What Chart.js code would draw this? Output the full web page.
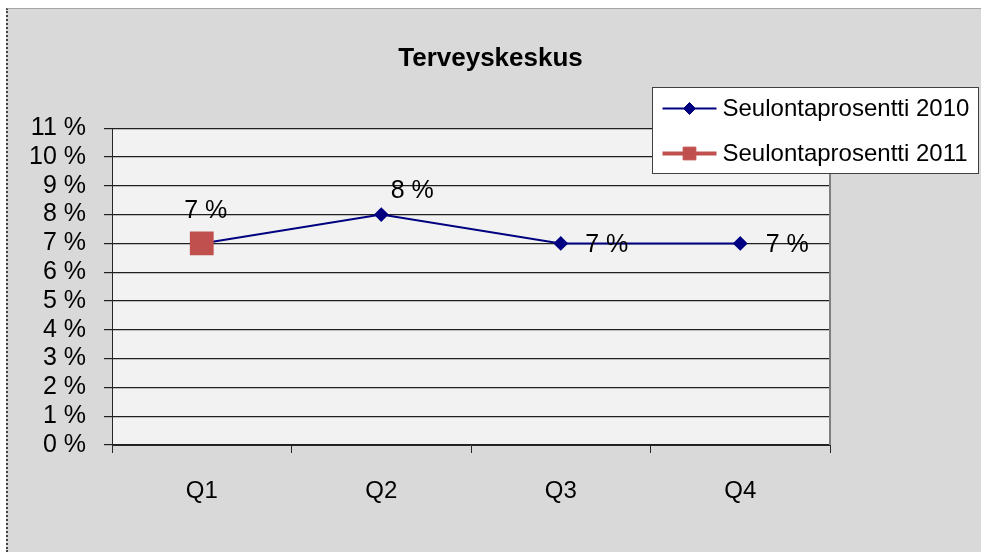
<!DOCTYPE html>
<html lang="fi">
<head>
  <meta charset="UTF-8">
  <title>Terveyskeskus</title>
  <script src="https://cdn.jsdelivr.net/npm/chart.js"></script>
  <style>
    body { margin: 0; background: #fff; }
    .frame {
      position: absolute; top: 8px; left: 6px; width: 975px; height: 544px;
      background: #d9d9d9; border-top: 1px solid #a6a6a6; border-left: 2px dotted #444;
      box-sizing: border-box;
    }
    #chart { position: absolute; top: 0; left: 0; }
  </style>
</head>
<body>
  <div class="frame"></div>
  <canvas id="chart" width="981" height="552"></canvas>

  <script>
    // values
    const categories = ['Q1', 'Q2', 'Q3', 'Q4'];
    const values2010 = [7, 8, 7, 7];
    const values2011 = [7, null, null, null];
    const seriesNames = ['Seulontaprosentti 2010', 'Seulontaprosentti 2011'];
    const yMin = 0, yMax = 11, yStep = 1;

    // where each data label sits relative to its point (Excel placed them by hand)
    const labelOffsets = [[4, -32], [31, -23], [46, 2], [47, 2]];

    const FONT = '"Liberation Sans", Arial, sans-serif';

    const plotBg = {
      id: 'plotBg',
      beforeDraw(chart) {
        const { ctx, chartArea: a } = chart;
        ctx.save();
        ctx.fillStyle = '#f2f2f2';
        ctx.fillRect(a.left, a.top, a.right - a.left, a.bottom - a.top);
        ctx.restore();
      },
      afterDraw(chart) {
        const { ctx, chartArea: a } = chart;
        ctx.save();
        ctx.strokeStyle = '#7f7f7f';
        ctx.lineWidth = 2;
        ctx.beginPath();
        ctx.moveTo(a.right, a.top);
        ctx.lineTo(a.right, a.bottom);
        ctx.stroke();
        ctx.restore();
      }
    };

    const dataLabels = {
      id: 'dataLabels',
      afterDatasetsDraw(chart) {
        const ctx = chart.ctx;
        const meta = chart.getDatasetMeta(0);
        ctx.save();
        ctx.font = '25px ' + FONT;
        ctx.fillStyle = '#000';
        ctx.textAlign = 'center';
        ctx.textBaseline = 'middle';
        meta.data.forEach((pt, i) => {
          const v = values2010[i];
          if (v == null) return;
          ctx.fillText(v + ' %', pt.x + labelOffsets[i][0], pt.y + labelOffsets[i][1]);
        });
        ctx.restore();
      }
    };

    // Excel-style legend box sitting over the top right corner
    const boxLegend = {
      id: 'boxLegend',
      afterDraw(chart) {
        const ctx = chart.ctx;
        const x = 652.5, y = 87.5, w = 326, h = 86;
        ctx.save();
        ctx.fillStyle = '#fff';
        ctx.strokeStyle = '#404040';
        ctx.lineWidth = 1;
        ctx.fillRect(x, y, w, h);
        ctx.strokeRect(x, y, w, h);
        chart.data.datasets.forEach((ds, i) => {
          const cy = y + 21 + i * 45;
          ctx.strokeStyle = ds.borderColor;
          ctx.lineWidth = ds.borderWidth;
          ctx.beginPath();
          ctx.moveTo(x + 10, cy);
          ctx.lineTo(x + 64, cy);
          ctx.stroke();
          ctx.fillStyle = ds.pointBackgroundColor;
          ctx.strokeStyle = ds.pointBorderColor;
          ctx.lineWidth = 1;
          Chart.helpers.drawPoint(ctx, {
            pointStyle: ds.pointStyle,
            radius: ds.legendRadius,
            rotation: 0,
            borderWidth: 1
          }, x + 37, cy);
          ctx.fillStyle = '#000';
          ctx.font = '24px ' + FONT;
          ctx.textAlign = 'left';
          ctx.textBaseline = 'middle';
          ctx.fillText(ds.label, x + 70, cy + 1);
        });
        ctx.restore();
      }
    };

    new Chart(document.getElementById('chart'), {
      type: 'line',
      data: {
        labels: categories,
        datasets: [{
          label: seriesNames[0],
          data: values2010,
          borderColor: '#000080',
          borderWidth: 2,
          pointStyle: 'rectRot',
          pointRadius: 6,
          legendRadius: 6,
          pointBackgroundColor: '#000080',
          pointBorderColor: '#000080',
          tension: 0,
          order: 1
        }, {
          label: seriesNames[1],
          data: values2011,
          borderColor: '#c0504d',
          borderWidth: 4,
          pointStyle: 'rect',
          pointRadius: 14,
          legendRadius: 9,
          pointBackgroundColor: '#c0504d',
          pointBorderColor: '#c0504d',
          tension: 0,
          order: 0
        }]
      },
      options: {
        responsive: false,
        animation: false,
        layout: { padding: { top: 43, right: 0, left: 0, bottom: 0 } },
        plugins: {
          legend: { display: false },
          tooltip: { enabled: false },
          title: {
            display: true,
            text: 'Terveyskeskus',
            color: '#000',
            font: { family: FONT, size: 26, weight: 'bold' },
            padding: { top: 0, bottom: 54 }
          }
        },
        scales: {
          x: {
            offset: true,
            grid: { offset: true, drawOnChartArea: false, tickLength: 8, color: '#262626' },
            border: { color: '#262626', width: 1 },
            ticks: { color: '#000', padding: 24, font: { family: FONT, size: 24 } },
            afterFit(s) { s.height = 107; }
          },
          y: {
            min: yMin,
            max: yMax,
            ticks: {
              stepSize: yStep,
              autoSkip: false,
              color: '#000',
              padding: 18,
              font: { family: FONT, size: 25 },
              callback: v => v + ' %'
            },
            grid: { color: '#1f1f1f', lineWidth: 1.2, tickLength: 8 },
            border: { color: '#262626', width: 1 },
            afterFit(s) { s.width = 112; }
          },
          // empty spacer on the right so the plot stops where the original does
          spacer: {
            type: 'linear',
            position: 'right',
            grid: { display: false, drawTicks: false },
            border: { display: false },
            ticks: { display: false },
            afterFit(s) { s.width = 151; }
          }
        }
      },
      plugins: [plotBg, dataLabels, boxLegend]
    });
  </script>
</body>
</html>
